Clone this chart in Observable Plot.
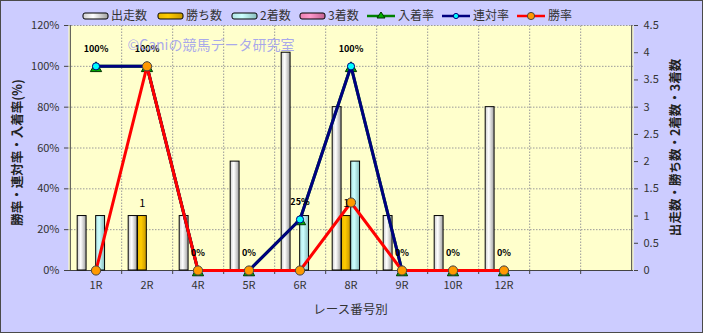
<!DOCTYPE html>
<html><head><meta charset="utf-8">
<script src="https://cdn.jsdelivr.net/npm/d3@7"></script>
<script src="https://cdn.jsdelivr.net/npm/@observablehq/plot@0.6"></script>
<style>
html,body{margin:0;padding:0;background:#fff;}
#wrap{width:703px;height:333px;box-sizing:border-box;border:1px solid #4a4a4a;background:#CCCCFF;overflow:hidden;}
svg text{font-family:"Noto Sans CJK JP","Noto Sans",sans-serif;}
</style></head>
<body>
<svg width="0" height="0" style="position:absolute">
<defs>
<linearGradient id="gWhite" x1="0" x2="1" y1="0" y2="0"><stop offset="0" stop-color="#cfcfcf"/><stop offset="0.4" stop-color="#ffffff"/><stop offset="1" stop-color="#a0a0a0"/></linearGradient>
<linearGradient id="gGold" x1="0" x2="1" y1="0" y2="0"><stop offset="0" stop-color="#e8b800"/><stop offset="0.4" stop-color="#ffcc00"/><stop offset="1" stop-color="#c89800"/></linearGradient>
<linearGradient id="gCyan" x1="0" x2="1" y1="0" y2="0"><stop offset="0" stop-color="#b0e4e4"/><stop offset="0.4" stop-color="#ccffff"/><stop offset="1" stop-color="#88bcbc"/></linearGradient>
<linearGradient id="gPink" x1="0" x2="1" y1="0" y2="0"><stop offset="0" stop-color="#e880b0"/><stop offset="0.4" stop-color="#ff99cc"/><stop offset="1" stop-color="#c06090"/></linearGradient>
</defs></svg>
<div id="wrap"></div>
<script>
// ---- data ----
const categories = ["1R","2R","4R","5R","6R","8R","9R","10R","12R"];
const emptySlots = ["_a","_b"];
const runners   = [1,1,1,2,4,3,1,1,3];   // 出走数
const wins      = [0,1,0,0,0,1,0,0,0];   // 勝ち数
const seconds   = [1,0,0,0,1,2,0,0,0];   // 2着数
const thirds    = [0,0,0,0,0,0,0,0,0];   // 3着数
const placeRate = [100,100,0,0,25,100,0,0,0];  // 入着率
const rentaiRate= [100,100,0,0,25,100,0,0,0];  // 連対率
const winRate   = [0,100,0,0,0,33.3,0,0,0];    // 勝率
const leftTicks = [0,20,40,60,80,100,120];
const rightTicks = [0,0.5,1,1.5,2,2.5,3,3.5,4,4.5];
const countSeries = ["出走数","勝ち数","2着数","3着数"];
const rateSeries = ["入着率","連対率","勝率"];

// ---- layout ----
const W = 701, H = 331;
const mL = 67, mR = 69, mT = 24, mB = 62;
const slots = [...categories, ...emptySlots];
const nSlots = slots.length;
const bw = (W - mL - mR) / nSlots;
const gw = bw * 0.72, bw4 = gw / 4;
const k = 120 / 4.5; // count -> percent units
const fills = ["url(#gWhite)","url(#gGold)","url(#gCyan)","url(#gPink)"];
const countArrays = [runners, wins, seconds, thirds];

const barMarks = countArrays.map((arr, i) => {
  const data = categories.map((c, j) => ({c, v: arr[j]})).filter(d => d.v > 0);
  const il = (bw - gw) / 2 + i * bw4;
  return Plot.barY(data, {x: "c", y: d => d.v * k, fill: fills[i], stroke: "#000", strokeWidth: 1,
    insetLeft: il, insetRight: bw - il - bw4});
});

const rows = categories.map((c, j) => ({c, p: placeRate[j], r: rentaiRate[j], w: winRate[j], win: wins[j]}));
const tickLen = 4 * 120 / (H - mT - mB);

const plot = Plot.plot({
  width: W, height: H,
  marginLeft: mL, marginRight: mR, marginTop: mT, marginBottom: mB,
  style: {background: "transparent", fontSize: "11px", color: "#333"},
  x: {type: "band", domain: slots, padding: 0, axis: null},
  y: {type: "linear", domain: [0, 120], axis: null},
  marks: [
    Plot.frame({fill: "#FFFFCC", stroke: null}),
    Plot.ruleY(leftTicks.filter(t => t > 0), {stroke: "#9a9a9a", strokeDasharray: "1.5,1.5"}),
    Plot.ruleX(slots.slice(0, nSlots - 1), {dx: bw / 2, y1: 0, y2: 120, stroke: "#9a9a9a", strokeDasharray: "1.5,1.5"}),
    Plot.ruleX(slots.slice(0, nSlots - 1), {dx: bw / 2, y1: 0, y2: -tickLen, stroke: "#444"}),
    Plot.ruleX([slots[0]], {dx: -bw / 2, y1: 0, y2: 120, stroke: "#444"}),
    Plot.ruleX([slots[nSlots - 1]], {dx: bw / 2, y1: 0, y2: 120, stroke: "#444"}),
    Plot.ruleY([0], {stroke: "#444"}),
    Plot.axisY(leftTicks, {anchor: "left", tickSize: 4, tickPadding: 5, tickFormat: d => d + "%", fontSize: 11, stroke: "#444", label: null}),
    Plot.axisY(rightTicks.map(v => v * k), {anchor: "right", tickSize: 4, tickPadding: 6, tickFormat: d => String(+(d / k).toFixed(1)), fontSize: 11, stroke: "#444", label: null}),
    Plot.axisX(categories, {anchor: "bottom", tickSize: 0, tickPadding: 11, fontSize: 11, label: null}),
    ...barMarks,
    Plot.line(rows, {x: "c", y: "p", stroke: "#008000", strokeWidth: 3}),
    Plot.dot(rows, {x: "c", y: "p", symbol: "triangle", r: 4.2, fill: "#00b000", stroke: "#003300", strokeWidth: 1, dy: 2}),
    Plot.line(rows, {x: "c", y: "r", stroke: "#000080", strokeWidth: 3}),
    Plot.dot(rows, {x: "c", y: "r", symbol: "circle", r: 3.6, fill: "#00FFFF", stroke: "#000080", strokeWidth: 1}),
    Plot.line(rows, {x: "c", y: "w", stroke: "#FF0000", strokeWidth: 3}),
    Plot.dot(rows, {x: "c", y: "w", r: 4.6, fill: "#FF9900", stroke: "#444", strokeWidth: 1}),
    Plot.text(rows.filter(d => d.win > 0), {x: "c", y: d => d.win * k, text: d => String(d.win), dy: -13, dx: -bw4 * 0.5, fontSize: 11, fill: "#000"}),
    Plot.text(rows, {x: "c", y: "p", text: d => d.p + "%", dy: -17, fontSize: 9, fontWeight: "bold", fill: "#000"})
  ]
});

const svg = d3.select(plot);
// watermark
svg.append("text").attr("x", 210).attr("y", 49).attr("text-anchor", "middle")
  .attr("font-size", 14).attr("fill", "#9a9af0").attr("fill-opacity", 0.85).text("©Caniの競馬データ研究室");
// axis titles
svg.append("text").attr("transform", `translate(21,${mT + (H - mT - mB) / 2 + 5}) rotate(-90)`)
  .attr("text-anchor", "middle").attr("font-size", 12.5).attr("font-weight", "bold").attr("fill", "#222")
  .text("勝率・連対率・入着率(%)");
svg.append("text").attr("transform", `translate(679,${mT + (H - mT - mB) / 2}) rotate(-90)`)
  .attr("text-anchor", "middle").attr("font-size", 12.5).attr("font-weight", "bold").attr("fill", "#222")
  .text("出走数・勝ち数・2着数・3着数");
svg.append("text").attr("x", mL + (W - mL - mR) / 2).attr("y", 313).attr("text-anchor", "middle")
  .attr("font-size", 12.5).attr("fill", "#333").text("レース番号別");

// legend
const lg = svg.append("g").attr("transform", "translate(0,15)").attr("text-anchor", "start");
const barX = [82, 157, 231, 299];
countSeries.forEach((s, i) => {
  lg.append("rect").attr("x", barX[i]).attr("y", -3).attr("width", 25).attr("height", 6).attr("rx", 2)
    .attr("fill", fills[i]).attr("stroke", "#000");
  lg.append("text").attr("x", barX[i] + 28).attr("y", 0).attr("dy", "0.36em").attr("font-size", 12).attr("fill", "#333").text(s);
});
const lineX = [366, 441, 516];
const lineColors = ["#008000", "#000080", "#FF0000"];
rateSeries.forEach((s, i) => {
  const x0 = lineX[i];
  lg.append("line").attr("x1", x0).attr("x2", x0 + 28).attr("y1", 0).attr("y2", 0).attr("stroke", lineColors[i]).attr("stroke-width", 2.5);
  if (i === 0) lg.append("path").attr("d", `M${x0 + 14},-4L${x0 + 18},2L${x0 + 10},2Z`).attr("fill", "#00b000").attr("stroke", "#003300");
  if (i === 1) lg.append("circle").attr("cx", x0 + 14).attr("cy", 0).attr("r", 2.6).attr("fill", "#00FFFF").attr("stroke", "#000080");
  if (i === 2) lg.append("circle").attr("cx", x0 + 14).attr("cy", 0).attr("r", 3.6).attr("fill", "#FF9900").attr("stroke", "#444");
  lg.append("text").attr("x", x0 + 31).attr("y", 0).attr("dy", "0.36em").attr("font-size", 12).attr("fill", "#333").text(s);
});

document.getElementById("wrap").appendChild(plot);
</script>
</body></html>
